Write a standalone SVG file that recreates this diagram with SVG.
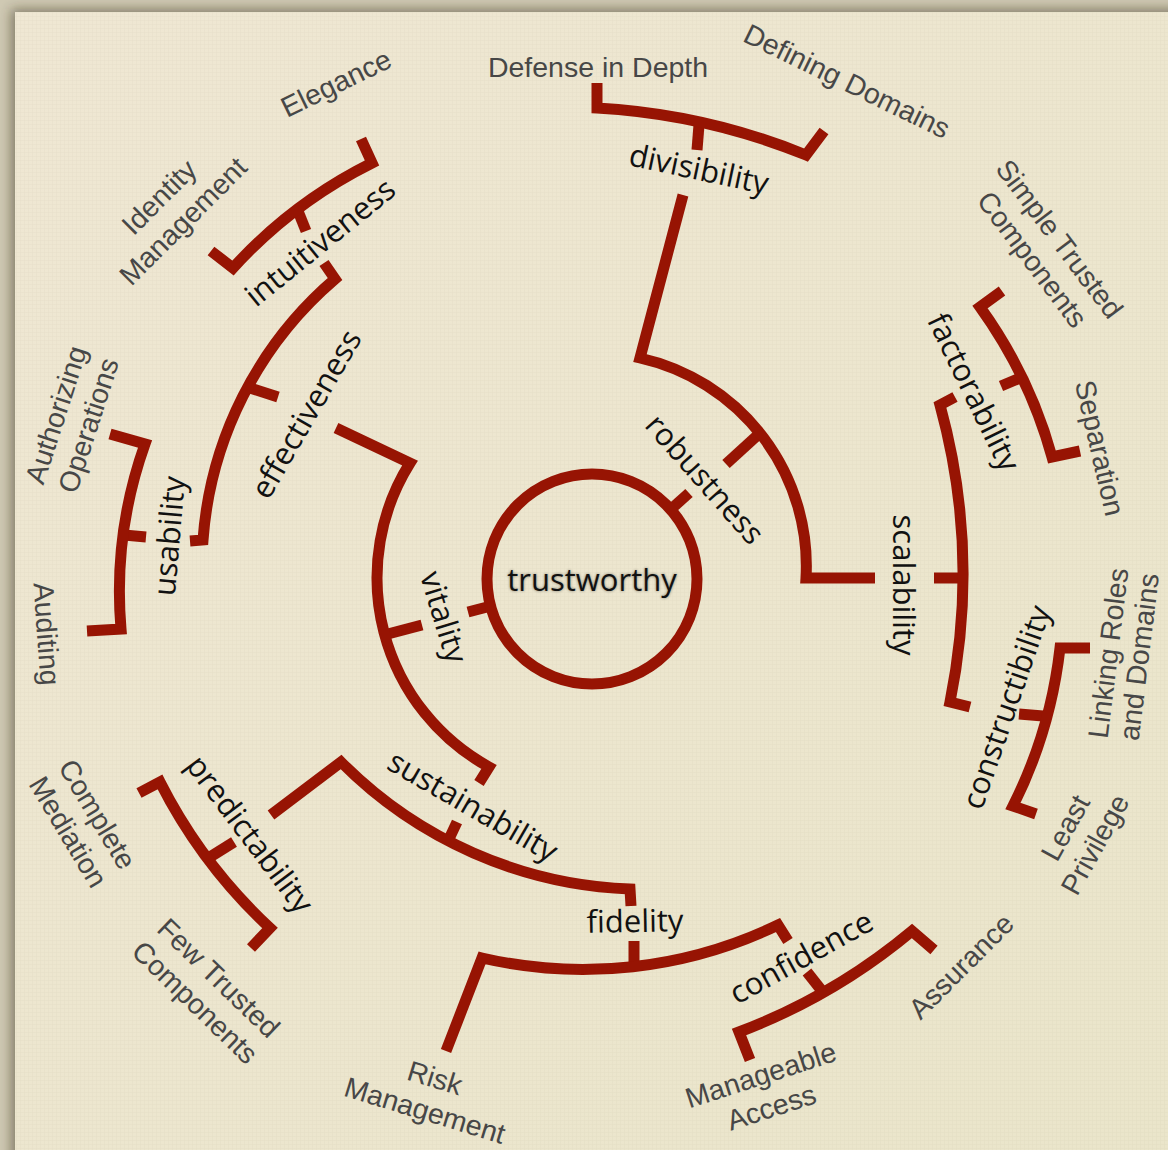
<svg xmlns="http://www.w3.org/2000/svg" width="1168" height="1150" viewBox="0 0 1168 1150">
  <defs>
    <style>
      .ln{fill:none;stroke:#971403;stroke-width:11;stroke-linejoin:miter;stroke-linecap:butt;stroke-miterlimit:10}
      .in{font-family:"Open Sans","DejaVu Sans",sans-serif;font-size:31px;fill:#111;text-anchor:middle}
      .lf{font-family:"Liberation Sans",Arial,sans-serif;font-size:28.5px;fill:#474747;text-anchor:middle}
    </style>
    <filter id="cardShadow" x="-5%" y="-5%" width="110%" height="110%">
      <feGaussianBlur stdDeviation="6"/>
    </filter>
    <filter id="glow" x="-10%" y="-30%" width="120%" height="160%">
      <feGaussianBlur stdDeviation="1.8"/>
    </filter>
    <linearGradient id="paper" x1="0" y1="0" x2="1" y2="1">
      <stop offset="0" stop-color="#EFE7D3"/>
      <stop offset="1" stop-color="#EAE5CA"/>
    </linearGradient>
    <pattern id="linen" width="4" height="4" patternUnits="userSpaceOnUse">
      <path d="M0 0.5H4M0.5 0V4" stroke="#8a7f60" stroke-width="0.6" opacity="0.07"/>
    </pattern>
  </defs>

  <!-- backdrop and paper card -->
  <rect width="1168" height="1150" fill="#CFC9B3"/>
  <rect x="11" y="9" width="1190" height="1180" fill="#2a2410" opacity="0.45" filter="url(#cardShadow)"/>
  <rect x="15" y="12" width="1170" height="1160" fill="url(#paper)"/>
  <rect x="15" y="12" width="1170" height="1160" fill="url(#linen)"/>

  <!-- connectors: brackets, arcs and stubs -->
  <g id="connectors" class="ln">
    <!-- trustworthy -> robustness -->
    <path d="M670,510 L689,493"/>
    <path d="M760,433 L726,464"/>
    <path d="M683,195 L640,358 A213,213 0 0,1 806,578 L875,578"/>
    <!-- divisibility -->
    <path d="M699,125 L697,150"/>
    <path d="M597,83 L597,108 A650,650 0 0,1 806,155 L824,131"/>
    <!-- scalability -->
    <path d="M934,578 L963,578"/>
    <path d="M955,397 L940,405 A640,640 0 0,1 950,702 L970,707"/>
    <!-- factorability -->
    <path d="M1020,378 L1001,386"/>
    <path d="M1002,291 L980,307 A470,470 0 0,1 1052,457 L1080,451"/>
    <!-- constructibility -->
    <path d="M1043,716 L1019,714"/>
    <path d="M1090,648 L1060,648 A470,470 0 0,1 1013,806 L1036,814"/>
    <!-- trustworthy -> vitality -->
    <path d="M491,606 L468,612"/>
    <path d="M384,635 L422,625"/>
    <path d="M336,428 L410,463 A216,216 0 0,0 489,767 L479,783"/>
    <!-- effectiveness -->
    <path d="M250,388 L278,397"/>
    <path d="M324,263 L335,279 A380,380 0 0,0 203,540 L190,541"/>
    <!-- intuitiveness -->
    <path d="M298,211 L306,231"/>
    <path d="M211,251 L233,268 A472,472 0 0,1 372,163 L361,139"/>
    <!-- usability -->
    <path d="M124,535 L146,537"/>
    <path d="M110,434 L145,444 A440,440 0 0,0 121,629 L87,631"/>
    <!-- sustainability -->
    <path d="M449,839 L457,822"/>
    <path d="M271,815 L341,762 A430,430 0 0,0 630,889 L631,906"/>
    <!-- predictability -->
    <path d="M210,857 L234,842"/>
    <path d="M139,793 L160,782 A520,520 0 0,0 270,928 L251,948"/>
    <!-- fidelity -->
    <path d="M634,964 L634,941"/>
    <path d="M446,1051 L482,958 A450,450 0 0,0 778,925 L788,941"/>
    <!-- confidence -->
    <path d="M822,991 L807,972"/>
    <path d="M750,1060 L739,1032 A600,600 0 0,0 912,931 L934,950"/>
  </g>

  <!-- root -->
  <g id="trustworthy">
    <circle cx="592" cy="579" r="105" class="ln"/>
    <text class="in" x="592" y="591" fill="#000" opacity="0.45" filter="url(#glow)">trustworthy</text>
    <text class="in" x="592" y="591">trustworthy</text>
  </g>

  <!-- inner properties -->
  <g id="robustness"><text class="in" transform="translate(705,479) rotate(48.5)" y="11">robustness</text></g>
  <g id="vitality"><text class="in" transform="translate(444,617) rotate(73)" y="11">vitality</text></g>
  <g id="divisibility"><text class="in" transform="translate(699,169) rotate(12)" y="11">divisibility</text></g>
  <g id="scalability"><text class="in" transform="translate(904,585) rotate(90)" y="11">scalability</text></g>
  <g id="factorability"><text class="in" transform="translate(974,392) rotate(64)" y="11">factorability</text></g>
  <g id="constructibility"><text class="in" transform="translate(1006,707) rotate(-71)" y="11">constructibility</text></g>
  <g id="effectiveness"><text class="in" transform="translate(306,414) rotate(-60)" y="11">effectiveness</text></g>
  <g id="intuitiveness"><text class="in" transform="translate(320,242) rotate(-39)" y="11">intuitiveness</text></g>
  <g id="usability"><text class="in" transform="translate(169,536) rotate(-85)" y="11">usability</text></g>
  <g id="sustainability"><text class="in" transform="translate(473,806) rotate(30)" y="11">sustainability</text></g>
  <g id="predictability"><text class="in" transform="translate(250,834) rotate(53)" y="11">predictability</text></g>
  <g id="fidelity"><text class="in" transform="translate(635,921) rotate(-1)" y="11">fidelity</text></g>
  <g id="confidence"><text class="in" transform="translate(801,957) rotate(-29)" y="11">confidence</text></g>

  <!-- principles (leaves) -->
  <g id="defense-in-depth"><text class="lf" transform="translate(598,67)" y="10">Defense in Depth</text></g>
  <g id="defining-domains"><text class="lf" transform="translate(847,81) rotate(26)" y="10">Defining Domains</text></g>
  <g id="simple-trusted-components"><text class="lf" transform="translate(1046,249) rotate(53)"><tspan x="0" y="-7">Simple Trusted</tspan><tspan x="0" y="27">Components</tspan></text></g>
  <g id="separation"><text class="lf" transform="translate(1100,448) rotate(77)" y="10">Separation</text></g>
  <g id="linking-roles"><text class="lf" transform="translate(1124,655) rotate(-83)"><tspan x="0" y="-6">Linking Roles</tspan><tspan x="0" y="25">and Domains</tspan></text></g>
  <g id="least-privilege"><text class="lf" transform="translate(1080,836) rotate(-61)"><tspan x="0" y="-7">Least</tspan><tspan x="0" y="27">Privilege</tspan></text></g>
  <g id="assurance"><text class="lf" transform="translate(961,966) rotate(-45)" y="10">Assurance</text></g>
  <g id="manageable-access"><text class="lf" transform="translate(766,1091) rotate(-18)"><tspan x="0" y="-7">Manageable</tspan><tspan x="0" y="27">Access</tspan></text></g>
  <g id="risk-management"><text class="lf" transform="translate(430,1094) rotate(17)"><tspan x="0" y="-7">Risk</tspan><tspan x="0" y="27">Management</tspan></text></g>
  <g id="few-trusted-components"><text class="lf" transform="translate(207,990) rotate(44)"><tspan x="0" y="-7">Few Trusted</tspan><tspan x="0" y="27">Components</tspan></text></g>
  <g id="complete-mediation"><text class="lf" transform="translate(83,823) rotate(59)"><tspan x="0" y="-7">Complete</tspan><tspan x="0" y="27">Mediation</tspan></text></g>
  <g id="auditing"><text class="lf" transform="translate(47,634) rotate(86)" y="10">Auditing</text></g>
  <g id="authorizing-operations"><text class="lf" transform="translate(72,420) rotate(-72)"><tspan x="0" y="-7">Authorizing</tspan><tspan x="0" y="27">Operations</tspan></text></g>
  <g id="identity-management"><text class="lf" transform="translate(171,209) rotate(-45)"><tspan x="0" y="-7">Identity</tspan><tspan x="0" y="27">Management</tspan></text></g>
  <g id="elegance"><text class="lf" transform="translate(336,83) rotate(-26)" y="10">Elegance</text></g>
</svg>
